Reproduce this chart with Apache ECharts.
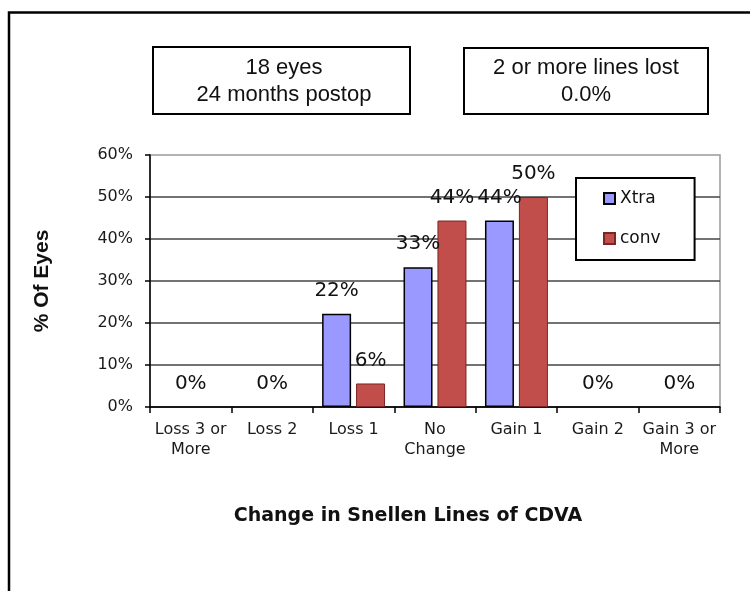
<!DOCTYPE html>
<html>
<head>
<meta charset="utf-8">
<style>
  html, body { margin: 0; padding: 0; background: #fff; }
  #chart { width: 750px; height: 591px; }
</style>
<script src="https://cdn.jsdelivr.net/npm/echarts@6/dist/echarts.min.js"></script>
</head>
<body>
<div id="chart"></div>
<script>
const categories = ['Loss 3 or\nMore', 'Loss 2', 'Loss 1', 'No\nChange', 'Gain 1', 'Gain 2', 'Gain 3 or\nMore']
const xtra = [0, 0, 22.2, 33.3, 44.4, 0, 0]
const conv = [0, 0, 5.6, 44.4, 50.0, 0, 0]
const yTicks = [0, 10, 20, 30, 40, 50, 60]

const pct = v => Math.round(v) + '%'
const font = 'DejaVu Sans, Verdana, sans-serif'

let chart = echarts.init(document.getElementById('chart'), null, { renderer: 'canvas' })
chart.setOption({
  backgroundColor: '#fff',
  animation: false,
  title: {
    text: 'Change in Snellen Lines of CDVA',
    left: 403,
    top: 502,
    textAlign: 'center',
    textStyle: { fontFamily: font, fontWeight: 'bold', fontSize: 19, color: '#111' },
  },
  legend: {
    orient: 'vertical',
    left: 576,
    top: 178,
    padding: [12, 34, 13, 27],
    itemGap: 23,
    itemWidth: 11,
    itemHeight: 11,
    icon: 'rect',
    backgroundColor: '#fff',
    borderColor: '#000',
    borderWidth: 2,
    textStyle: { fontFamily: font, fontSize: 17, color: '#111' },
    data: ['Xtra', 'conv'],
  },
  grid: {
    left: 150,
    top: 155,
    width: 570,
    height: 252,
    show: true,
    borderColor: '#999',
    borderWidth: 1.5,
  },
  xAxis: {
    type: 'category',
    data: categories,
    axisLine: { lineStyle: { color: '#000', width: 1.5 } },
    axisTick: { show: true, length: 6, lineStyle: { color: '#000', width: 1.5 } },
    axisLabel: {
      interval: 0,
      margin: 13,
      fontFamily: font,
      fontSize: 16,
      lineHeight: 20,
      color: '#1a1a1a',
    },
  },
  yAxis: {
    type: 'value',
    min: yTicks[0],
    max: yTicks[yTicks.length - 1],
    interval: 10,
    name: '% Of Eyes',
    nameLocation: 'middle',
    nameRotate: 90,
    nameGap: 97,
    nameTextStyle: { fontFamily: 'Liberation Sans, Arial, sans-serif', fontWeight: 'bold', fontSize: 21, color: '#111' },
    axisLine: { show: true, lineStyle: { color: '#000', width: 1.5 } },
    axisTick: { show: true, length: 5, lineStyle: { color: '#000', width: 1.5 } },
    axisLabel: {
      margin: 17,
      formatter: '{value}%',
      fontFamily: font,
      fontSize: 16,
      color: '#1a1a1a',
    },
    splitLine: { show: true, showMaxLine: false, lineStyle: { color: '#444', width: 1.5 } },
  },
  series: [
    {
      name: 'Xtra',
      type: 'bar',
      barWidth: 29,
      barGap: '17%',
      // a zero value gets one label centred in its category, and no outline
      data: xtra.map(v => v === 0 ? { value: v, label: { offset: [17, 0] }, itemStyle: { borderWidth: 0 } } : v),
      itemStyle: { color: '#9999FF', borderColor: '#000', borderWidth: 1.5 },
      label: {
        show: true,
        position: 'top',
        distance: 13,
        formatter: p => pct(p.value),
        fontFamily: font,
        fontSize: 20,
        color: '#111',
      },
    },
    {
      name: 'conv',
      type: 'bar',
      barWidth: 29,
      data: conv.map(v => v === 0 ? { value: v, label: { show: false }, itemStyle: { borderWidth: 0 } } : v),
      itemStyle: { color: '#C24E4B', borderColor: '#7a2626', borderWidth: 1 },
      label: {
        show: true,
        position: 'top',
        distance: 13,
        formatter: p => pct(p.value),
        fontFamily: font,
        fontSize: 20,
        color: '#111',
      },
    },
  ],
  graphic: [
    // outer frame, open on the right and bottom
    {
      type: 'polyline',
      shape: { points: [[9, 600], [9, 12.5], [760, 12.5]] },
      style: { stroke: '#000', lineWidth: 2.5, fill: null },
    },
    {
      type: 'group',
      left: 152,
      top: 46,
      children: [
        { type: 'rect', shape: { x: 0, y: 0, width: 257, height: 67 }, style: { fill: '#fff', stroke: '#000', lineWidth: 2 } },
        {
          type: 'text',
          x: 131,
          y: 34,
          style: {
            text: '18 eyes\n24 months postop',
            align: 'center',
            verticalAlign: 'middle',
            lineHeight: 27,
            font: '22px Liberation Sans, Arial, sans-serif',
            fill: '#111',
          },
        },
      ],
    },
    {
      type: 'group',
      left: 463,
      top: 47,
      children: [
        { type: 'rect', shape: { x: 0, y: 0, width: 244, height: 66 }, style: { fill: '#fff', stroke: '#000', lineWidth: 2 } },
        {
          type: 'text',
          x: 122,
          y: 33,
          style: {
            text: '2 or more lines lost\n0.0%',
            align: 'center',
            verticalAlign: 'middle',
            lineHeight: 27,
            font: '22px Liberation Sans, Arial, sans-serif',
            fill: '#111',
          },
        },
      ],
    },
  ],
})
</script>
</body>
</html>
